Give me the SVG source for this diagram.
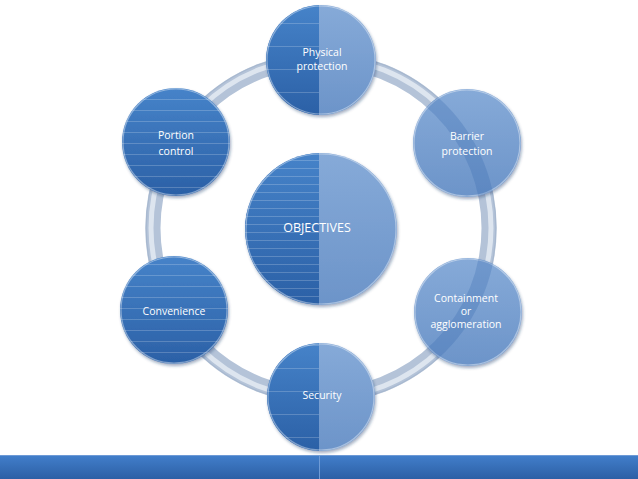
<svg xmlns="http://www.w3.org/2000/svg" width="638" height="479" viewBox="0 0 638 479">
<defs>
<style>
.lbl{font-family:"Open Sans","DejaVu Sans",sans-serif;font-size:10.5px;fill:#ffffff;text-anchor:middle}
.big{font-size:12.5px}
.rim{fill:none;stroke:#ffffff;stroke-opacity:0.4;stroke-width:1.2}
</style>
<linearGradient id="dark" x1="0" y1="0" x2="0" y2="1">
<stop offset="0" stop-color="#4683c9"/><stop offset="1" stop-color="#2b60a6"/>
</linearGradient>
<linearGradient id="light" x1="0" y1="0" x2="0" y2="1">
<stop offset="0" stop-color="#86aad8"/><stop offset="1" stop-color="#6c94c9"/>
</linearGradient>
<linearGradient id="bar" x1="0" y1="0" x2="0" y2="1">
<stop offset="0" stop-color="#427fcb"/><stop offset="1" stop-color="#2c5fa5"/>
</linearGradient>
<pattern id="s8" patternUnits="userSpaceOnUse" width="20" height="8"><line x1="0" y1="0.5" x2="20" y2="0.5" stroke="#ffffff" stroke-opacity="0.25" stroke-width="0.8"/></pattern>
<pattern id="s11" patternUnits="userSpaceOnUse" width="20" height="11"><line x1="0" y1="0.5" x2="20" y2="0.5" stroke="#ffffff" stroke-opacity="0.25" stroke-width="0.8"/></pattern>
<pattern id="s23" patternUnits="userSpaceOnUse" width="20" height="23"><line x1="0" y1="0.5" x2="20" y2="0.5" stroke="#ffffff" stroke-opacity="0.25" stroke-width="0.8"/></pattern>
<clipPath id="leftHalf"><rect x="0" y="0" width="319" height="479"/></clipPath>
<clipPath id="rightCircles"><circle cx="467" cy="143" r="54"/><circle cx="468" cy="312" r="54"/></clipPath>
<filter id="sh" x="-20%" y="-20%" width="140%" height="140%"><feDropShadow dx="1" dy="2" stdDeviation="1.5" flood-color="#1a3b66" flood-opacity="0.4"/></filter>
</defs>
<rect width="638" height="479" fill="#ffffff"/>
<g id="connectors">
<circle cx="321" cy="228" r="168" fill="none" stroke="#b4c3d8" stroke-width="15"/>
<circle cx="321" cy="228" r="170" fill="none" stroke="#dde5ef" stroke-width="5"/>
<circle cx="321" cy="228" r="175" fill="none" stroke="#9fb1c9" stroke-width="1.5" stroke-opacity="0.6"/>
</g>
<g id="node-objectives">
<circle cx="321" cy="229" r="76" fill="url(#light)" filter="url(#sh)"/>
<g clip-path="url(#leftHalf)"><circle cx="321" cy="229" r="76" fill="url(#dark)"/><circle cx="321" cy="229" r="76" fill="url(#s8)"/></g>
<circle cx="321" cy="229" r="75" class="rim"/>
<text x="317" y="232" class="lbl big">OBJECTIVES</text>
</g>
<g id="node-physical">
<circle cx="321" cy="60" r="55" fill="url(#light)" filter="url(#sh)"/>
<g clip-path="url(#leftHalf)"><circle cx="321" cy="60" r="55" fill="url(#dark)"/><circle cx="321" cy="60" r="55" fill="url(#s23)"/></g>
<circle cx="321" cy="60" r="54" class="rim"/>
<text x="322" y="56" class="lbl">Physical</text>
<text x="322" y="70" class="lbl">protection</text>
</g>
<g id="node-security">
<circle cx="321" cy="397" r="54" fill="url(#light)" filter="url(#sh)"/>
<g clip-path="url(#leftHalf)"><circle cx="321" cy="397" r="54" fill="url(#dark)"/><circle cx="321" cy="397" r="54" fill="url(#s23)"/></g>
<circle cx="321" cy="397" r="53" class="rim"/>
<text x="322" y="399" class="lbl">Security</text>
</g>
<g id="node-portion">
<circle cx="176" cy="142" r="54" fill="url(#dark)" filter="url(#sh)"/>
<circle cx="176" cy="142" r="54" fill="url(#s11)"/>
<circle cx="176" cy="142" r="53" class="rim"/>
<text x="176" y="139" class="lbl">Portion</text>
<text x="176" y="155" class="lbl">control</text>
</g>
<g id="node-convenience">
<circle cx="174" cy="310" r="54" fill="url(#dark)" filter="url(#sh)"/>
<circle cx="174" cy="310" r="54" fill="url(#s11)"/>
<circle cx="174" cy="310" r="53" class="rim"/>
<text x="174" y="315" class="lbl">Convenience</text>
</g>
<g id="node-barrier">
<circle cx="467" cy="143" r="54" fill="url(#light)" filter="url(#sh)"/>
<circle cx="467" cy="143" r="53" class="rim"/>
</g>
<g id="node-containment">
<circle cx="468" cy="312" r="54" fill="url(#light)" filter="url(#sh)"/>
<circle cx="468" cy="312" r="53" class="rim"/>
</g>
<g clip-path="url(#rightCircles)">
<circle cx="321" cy="228" r="168" fill="none" stroke="#2f64aa" stroke-opacity="0.25" stroke-width="15"/>
</g>
<g id="labels-right">
<text x="467" y="140" class="lbl">Barrier</text>
<text x="467" y="155" class="lbl">protection</text>
<text x="466" y="302" class="lbl">Containment</text>
<text x="466" y="315" class="lbl">or</text>
<text x="466" y="328" class="lbl">agglomeration</text>
</g>
<g id="footer">
<rect x="0" y="455" width="638" height="24" fill="url(#bar)"/>
<line x1="0" y1="455.5" x2="638" y2="455.5" stroke="#6d9ad6" stroke-width="1"/>
<line x1="319.5" y1="455" x2="319.5" y2="479" stroke="#6f9bd6" stroke-width="1"/>
</g>
</svg>
